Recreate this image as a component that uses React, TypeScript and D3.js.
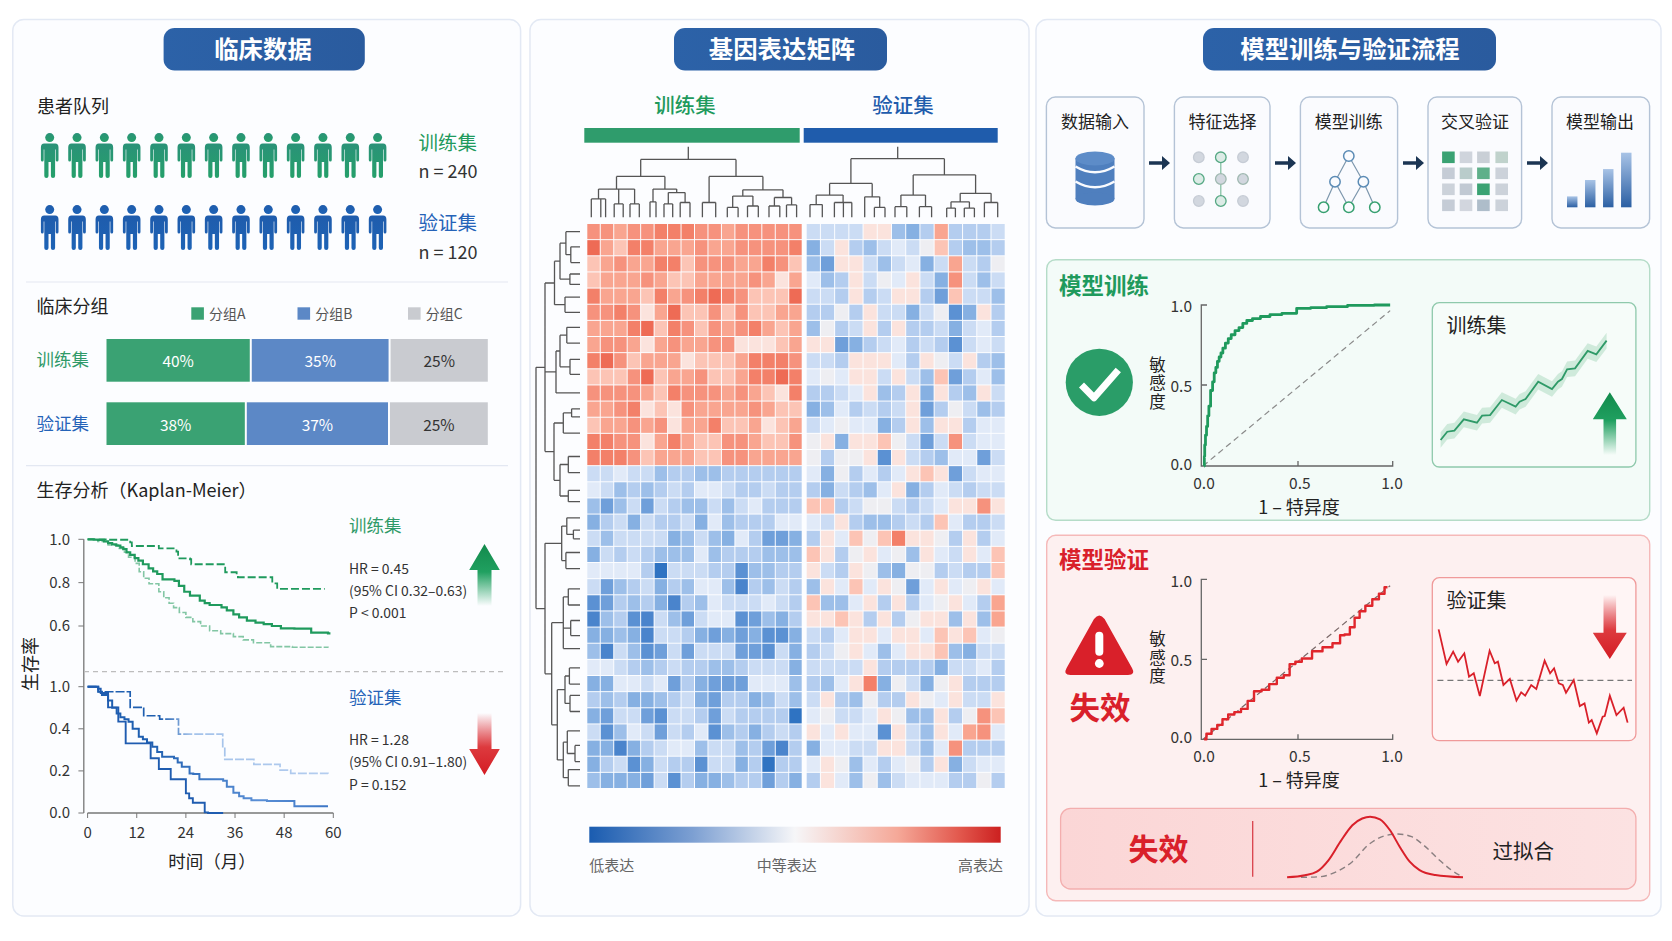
import React from "react";
import * as d3 from "d3";

const FONT = '"Noto Sans CJK SC","Noto Sans",sans-serif';
const GREEN = "#1f9a5d";
const BLUE = "#2563b8";
const RED = "#d9202a";
const INK = "#222";

const personRows = [
  { label: "训练集", n: "n = 240", color: GREEN },
  { label: "验证集", n: "n = 120", color: BLUE },
];
const personIcons = d3.range(13);

const groupNames = ["分组A", "分组B", "分组C"];
const groupColors = ["#3aa273", "#5c88c6", "#c9cbd0"];
const trainShareLabels = ["40%", "35%", "25%"];
const validShareLabels = ["38%", "37%", "25%"];
const trainShareDrawn = [38.1, 36.4, 25.5];
const validShareDrawn = [36.8, 37.55, 25.65];

const kmTrainMainT = [0,1.5,2.5,4,5,6,7,8,8.7,9.5,10.4,11.5,12.4,13.5,14.9,16,17,18.3,21.2,22.3,23.6,25,27.4,28.6,29.8,32.7,34,35.6,37,38.9,41,43,45,47.2,50.5,54.6,58.7,59.3];
const kmTrainMainS = [1,.998,.997,.99,.982,.977,.971,.963,.955,.94,.928,.913,.902,.885,.866,.852,.84,.815,.808,.785,.758,.74,.717,.706,.697,.686,.672,.654,.64,.625,.616,.609,.6,.589,.588,.569,.566,.566];
const kmTrainTopT = [0,5,10.4,10.8,17.4,21.7,22.1,25,25.3,32.7,33.6,36.4,36.7,44.3,45.1,46.3,57.9];
const kmTrainTopS = [1,.998,.986,.969,.958,.943,.912,.908,.885,.885,.848,.843,.825,.825,.797,.771,.771];
const kmTrainLowT = [0,2.5,5,7.5,9,10,11.6,12.6,13.7,15,17.4,18.6,19.9,21,22.4,24,25.7,27.6,29.8,32.5,35.6,38,40.5,44.7,50,58.7];
const kmTrainLowS = [1,.99,.974,.958,.94,.917,.889,.85,.82,.795,.758,.73,.705,.685,.662,.64,.62,.6,.578,.565,.551,.536,.523,.505,.502,.5];
const kmValidDarkT = [0,2.6,3.2,5,7.5,9.3,15.4,17.4,20.3,24,24.8,25.7,28.6,29.4,33.1];
const kmValidDarkU = [.6,.59,.57,.502,.434,.331,.26,.209,.16,.093,.07,.049,.003,0,0];
const kmValidMidT = [0,2.6,3.5,5,6,7.1,8,9,10,11,12.5,13.5,14.5,15.8,17,18.2,21.1,22,23,24.9,25.8,27.3,33.1,34,35.6,37,38.1,40,43.8,50.5,58.7];
const kmValidMidU = [.6,.576,.56,.535,.5,.473,.455,.445,.434,.4,.3625,.35,.335,.315,.29,.2675,.2596,.24,.22,.188,.185,.16,.1535,.125,.096,.08,.07,.06,.057,.032,.032];
const kmValidTopT = [0,2.6,10.4,13.7,17.6,22.2,33,33.5,40.6,47,49.6,58.7];
const kmValidTopU = [.6,.576,.502,.462,.446,.375,.315,.255,.231,.204,.188,.187];
const kmUpperTicks = [1, 0.8, 0.6];
const kmLowerTicks = [0.6, 0.4, 0.2, 0];
const kmLowerTickLabels = ["1.0", "0.4", "0.2", "0.0"];
const kmMonthTicks = [0, 12, 24, 36, 48, 60];

const heatTrainTop = [
  [4,4,3,4,4,5,5,5,4,4,3,4,4,4,4,4],
  [6,3,2,5,5,3,3,3,4,3,3,4,4,4,4,5],
  [2,3,4,3,3,5,5,2,4,4,4,3,3,5,4,2],
  [2,3,3,3,4,3,2,2,3,3,3,3,4,3,1,3],
  [5,3,3,3,2,5,3,4,5,6,5,4,2,2,2,6],
  [4,4,5,4,1,3,6,2,2,4,2,4,2,2,3,3],
  [3,3,3,5,6,2,5,4,2,4,3,4,5,3,2,3],
  [3,4,4,3,1,3,4,3,3,4,4,1,1,1,2,3],
  [5,6,4,2,3,3,3,1,2,2,2,3,5,5,5,4],
  [2,2,2,4,6,2,3,3,4,2,2,3,5,5,6,5],
  [4,4,4,4,3,2,5,4,4,4,3,4,3,2,1,5],
  [3,3,4,5,1,2,1,4,3,3,3,3,4,3,2,2],
  [2,3,3,4,3,4,1,3,3,5,2,2,3,1,2,3],
  [5,5,4,4,1,3,5,3,2,2,4,4,3,2,2,4],
  [5,5,5,4,2,3,3,3,2,2,4,4,3,3,3,3],
];
const heatTrainBottom = [
  [-2,-2,-1,-2,-2,-4,-3,-3,-4,-4,-3,-3,-3,-3,-3,-3],
  [-1,-2,-4,-3,-4,-3,-2,-3,-1,-1,-2,-3,-3,-2,-3,-3],
  [-4,-6,-4,-2,-6,-2,-3,-4,-4,-2,-4,-2,-1,-3,-3,-3],
  [-5,-3,-2,-5,-2,-3,-3,-2,-5,-1,-4,-3,-3,-3,-1,-1],
  [-2,-4,-2,-2,-2,-2,-5,-4,-2,-4,-5,-1,-3,-6,-6,-5],
  [-5,-2,-3,-2,-3,-4,-4,-4,-1,-4,-3,-3,-3,-4,-4,-4],
  [-1,-1,-1,-1,-3,-9,-2,-2,-2,-3,-3,-7,-4,-4,-3,-3],
  [-2,-6,-4,-3,-2,-5,-3,-4,-1,-1,-4,-8,-3,-4,-2,-3],
  [-7,-6,-3,-4,-3,-5,-8,-3,-4,-1,-2,-2,-2,-1,-2,-3],
  [-8,-4,-3,-7,-8,-2,-4,-6,-2,-1,-1,-7,-6,-4,-5,-3],
  [-5,-5,-4,-5,-8,-2,-2,-3,-5,-6,-5,-6,-5,-7,-7,-5],
  [-4,-8,-2,-4,-7,-6,-2,-6,-2,-2,-2,-6,-6,-7,-2,-5],
  [-1,-1,-2,-3,-4,-3,-2,-3,-3,-4,-4,-3,-2,-2,-2,-5],
  [-5,-5,-1,-1,-2,-1,-6,-3,-5,-6,-6,-6,-1,-1,-1,-4],
  [-3,-4,-3,-5,-5,-4,-3,-2,-5,-6,-3,-3,-5,-4,-2,-4],
  [-5,-6,-2,-2,-6,-7,-2,-2,-3,-6,-2,-3,-3,-3,-3,-9],
  [-2,-7,-4,-1,-2,-6,-2,-3,-1,-7,-4,-3,-5,-3,-2,-3],
  [-5,-5,-8,-5,-3,-2,-1,-1,-4,-2,-2,-4,-3,-6,-8,-3],
  [-5,-3,-2,-7,-5,-2,-3,-3,-7,-2,-2,-5,-3,-9,-3,-3],
  [-4,-5,-5,-5,-6,-2,-7,-3,-5,-5,-4,-3,-3,-6,-3,-5],
];
const heatValidTop = [
  [-2,-2,-2,-2,1,1,-4,-5,-3,3,-3,-3,-3,-2],
  [-5,-2,1,-3,-4,-2,-1,-2,0,2,-3,-4,-4,-3],
  [-4,-6,1,1,-2,-4,-2,-1,-5,-2,3,-2,-3,0],
  [-1,-4,-3,1,-2,0,-1,1,-2,-5,4,-2,-4,-2],
  [-2,-2,-3,1,-3,-2,1,1,-3,-6,2,-2,-2,-4],
  [-3,-3,0,-3,1,-2,-2,-5,-2,0,-7,-5,1,-3],
  [-4,0,-3,-2,1,-3,1,-3,-3,-2,-5,-2,-1,-3],
  [1,1,-6,-5,-3,-2,-1,-3,-2,-3,-7,-2,-1,-2],
  [-2,-2,-3,1,1,1,-1,-3,1,0,-2,1,-3,-4],
  [-1,0,-1,1,1,-2,1,-2,-4,2,-6,-3,-1,-4],
  [-3,-3,-2,-1,1,-4,-3,1,-5,1,-3,-4,1,-2],
  [-5,-4,-1,-3,-2,-3,-2,1,-6,-3,0,-2,-4,-3],
  [-2,-1,0,-1,-1,-5,-3,1,-4,1,1,-3,-1,-1],
  [0,1,-5,1,1,2,0,-2,-6,-2,4,-2,-1,-1],
  [0,-3,0,0,1,-7,1,-2,-3,-4,-1,-1,-6,-2],
];
const heatValidBottom = [
  [-1,-5,0,-3,-1,-3,-1,1,2,1,-6,-2,-1,-1],
  [-3,-5,-2,-3,-4,-1,1,-5,-3,-1,-2,-3,-2,-2],
  [2,2,-3,-2,0,0,-2,-3,-2,-1,1,1,4,1],
  [-1,-2,1,-3,-4,-4,-3,-2,-3,2,-1,-3,-3,-2],
  [-3,1,-1,2,0,2,5,1,1,0,-3,1,-3,-1],
  [2,1,-3,0,1,-1,0,-4,1,-1,-2,1,-1,2],
  [1,-2,-3,1,0,-4,-5,0,0,-3,-2,-3,-3,2],
  [-4,1,-1,2,-1,1,0,-6,-1,1,-1,0,1,-1],
  [2,-4,-4,-1,1,-3,1,-3,-1,0,1,-1,-3,3],
  [1,1,2,1,-3,1,-3,0,1,1,-4,1,-4,3],
  [-2,-3,-1,1,1,-1,1,1,-1,2,1,2,-1,0],
  [-3,-2,0,1,-1,-4,-1,1,1,2,-4,-5,-2,-2],
  [-2,-2,-2,-2,1,-3,-3,-3,-3,-5,-2,-2,-1,-3],
  [-3,-4,-1,1,5,-5,0,-2,-5,0,1,-3,-3,-3],
  [-2,1,-3,-4,0,-3,-3,1,0,-1,1,-2,-2,1],
  [-1,0,-2,-2,-1,1,0,-4,-4,1,-3,0,4,2],
  [1,-1,1,-1,-1,-7,1,-2,-4,1,-1,3,4,-1],
  [-5,-1,-1,-2,-2,1,1,-2,-4,-1,4,-3,-3,-3],
  [-1,1,0,-4,-1,-3,-1,0,-3,1,-5,-2,-1,-1],
  [-3,1,-1,-4,0,-4,-2,-1,-1,-1,-3,-3,0,-3],
];
const heatLevels = [-9,-8,-7,-6,-5,-4,-3,-2,-1,0,1,2,3,4,5,6];
const heatColors = ["#2f73c2","#4a84cc","#5b91d3","#6f9fda","#86b0e2","#9dbfe9","#b4cdef","#cbdcf4","#e1eaf8","#eeeef2","#fbe3dd","#fcc4b5","#f9a590","#f6927d","#f38069","#ee6b55"];
const legendOffsets = [0, 0.25, 0.5, 0.75, 0.9, 1];
const legendStops = ["#1a5cb0", "#7c9fd2", "#f6f6f8", "#f5a898", "#e2584d", "#cc2020"];

type Tree = number | (number | Tree)[];
const trainColTree: Tree = [.82,
  [.58,
    [.40, [.26,.3,1,1.36], [.19,2,2.67], [.19,3.17,3.86]],
    [.40, [.22,4.66,5.1], [.35,[.19,5.7,6.34],[.21,6.9,7.63]]]],
  [.58,
    [.21,8.55,9.54],
    [.39,[.30,[.14,10.4,11.2],[.16,11.9,12.7]],[.28,[.16,13.5,14.3],[.175,14.8,15.55]]]],
];
const validColTree: Tree = [.83,
  [.48,
    [.315,[.18,.23,1.1],[.21,1.95,2.58,3.17]],
    [.29,4.08,[.14,4.76,5.51]]],
  [.60,
    [.315,[.15,6.21,7.04],[.15,7.93,8.79]],
    [.34,[.22,[.13,9.85,10.46],[.13,11.09,11.8]],[.21,12.5,13.44]]],
];
const rowTree: Tree = [1,
  [.795,
    [.58,[.455,[.32,.48,[.21,1.41,2.39]],[.23,3.1,3.74]],[.34,4.53,5.47]],
    [.545,[.455,[.30,6.4,7.38],[.227,8.38,9.31]],10.46],
    [.59,[.38,[.19,11.45,11.95],12.95],[.455,[.265,14.4,15.4],[.265,16.5,17.2]]]],
  [.795,
    [.417,[.30,18.2,[.15,18.96,19.5]],[.32,20.35,21.35]],
    [.644,
      [.38,[.265,22.6,23.6],[.212,24.56,25.5],26.3],
      [.515,[.34,[.24,27.5,28.5],[.227,29.2,30.2]],[.38,[.288,31.4,[.114,32.3,33.3]],[.265,33.8,34.8]]]]],
];

const stepNames = ["数据输入", "特征选择", "模型训练", "交叉验证", "模型输出"];
const outputBars = [0.2, 0.5, 0.7, 1];
const cvColors = [
  ["#3aa273","#cfd4dc","#c9cfd6","#c0d2cc"],
  ["#c5ccd6","#b9cccb","#5fb08a","#ccd2da"],
  ["#ccd2da","#c1c9d3","#3aa273","#ccd2da"],
  ["#c5ccd6","#d2d6de","#aebdca","#ccd2da"],
];

const rocTrainX = [.006,.008,.01,.016,.021,.028,.034,.046,.055,.063,.072,.08,.09,.099,.11,.126,.14,.157,.18,.199,.22,.241,.28,.325,.38,.451,.535,.6,.702,.82,.985];
const rocTrainY = [0,.06,.13,.19,.244,.31,.369,.466,.52,.576,.61,.648,.675,.7,.73,.762,.79,.814,.84,.859,.885,.903,.915,.928,.94,.948,.979,.984,.99,.998,1];
const rocValidX = [.006,.03,.06,.09,.115,.15,.18,.22,.25,.287,.33,.367,.41,.44,.472,.5,.54,.608,.65,.713,.73,.76,.786,.81,.839,.87,.912,.94,.971];
const rocValidY = [0,.035,.065,.09,.125,.155,.17,.19,.24,.3,.31,.345,.385,.4,.47,.485,.505,.55,.575,.6,.65,.655,.7,.76,.8,.835,.875,.91,.95];
const rocTicks = [0, 0.5, 1];

const trendTrainX = [0,4,8.3,14,21.9,25,29.8,36.9,45.2,47.6,51.2,58.8,67.1,70.7,73.1,76.2,81,88.6,93.8,100];
const trendTrainY = [.125,.194,.203,.297,.269,.328,.333,.458,.403,.444,.467,.611,.55,.611,.633,.714,.722,.867,.839,.953];
const trendValidX = [0,4.2,7.7,10.3,13.6,16.1,18.6,21.8,27,29.7,31.4,34.3,37.7,41.2,43.7,45.8,49,51.7,56.1,59,61.1,63.6,65.7,67.4,71.5,74.7,77.2,79.5,81,83.7,86.8,87.9,90.6,94.1,97.9,100];
const trendValidY = [1.006,.691,.803,.712,.788,.576,.606,.4,.812,.697,.712,.5,.555,.358,.433,.403,.5,.464,.721,.606,.652,.515,.5,.43,.545,.309,.333,.158,.182,.061,.212,.218,.403,.227,.294,.158];
const overfitRedX = [0,10.1,16.9,23.6,30.3,37.1,42.7,47.2,52.8,58.4,64,69.7,75.3,84.3,100];
const overfitRedY = [0,.033,.093,.285,.588,.86,.97,1,.956,.78,.505,.258,.12,.038,0];
const overfitGreyX = [7.9,19.1,28.1,37.1,46.1,55.1,62.9,70.8,77.5,86.5,93.3,98.9];
const overfitGreyY = [0,.011,.093,.258,.533,.681,.714,.67,.533,.286,.121,.022];

const zip = (a: number[], b: number[]) => a.map((v, i) => [v, b[i]] as [number, number]);

function T({ x, y, s, c = INK, a = "start", w = 400, children, ...rest }: any) {
  return <text x={x} y={y - 1.3} fontSize={s} fill={c} textAnchor={a} fontWeight={w} dominantBaseline="central" {...rest}>{children}</text>;
}

function treePath(tree: Tree, toPoint: (pos: number, h: number) => [number, number], stemTo?: number) {
  const parts: string[] = [];
  const line = (a: [number, number], b: [number, number]) => parts.push(`M${a[0].toFixed(1)},${a[1].toFixed(1)}L${b[0].toFixed(1)},${b[1].toFixed(1)}`);
  const walk = (n: Tree): { pos: number; h: number } => {
    if (typeof n === "number") return { pos: n, h: 0 };
    const h = n[0] as number;
    const kids = (n.slice(1) as Tree[]).map(walk);
    const ps = kids.map(k => k.pos);
    const lo = Math.min(...ps), hi = Math.max(...ps);
    kids.forEach(k => line(toPoint(k.pos, k.h), toPoint(k.pos, h)));
    line(toPoint(lo, h), toPoint(hi, h));
    return { pos: (lo + hi) / 2, h };
  };
  const root = walk(tree);
  if (stemTo !== undefined) line(toPoint(root.pos, root.h), toPoint(root.pos, stemTo));
  return parts.join("");
}

function Arrow({ x, tip, base, tail, hw, sw, fill }: any) {
  const d = `M${x},${tip}L${x + hw},${base}H${x + sw}V${tail}H${x - sw}V${base}H${x - hw}Z`;
  return <path d={d} fill={fill} />;
}

function Person({ x, y, fill }: any) {
  return (
    <g transform={`translate(${x},${y})`} fill={fill}>
      <circle cx={0} cy={4.6} r={4.5} />
      <path d="M-5.5,10.5H5.5Q8.8,10.5 8.8,14.5V27Q8.8,28.5 7.4,28.5Q6,28.5 6,27V16.5H5.4V43Q5.4,45 3.3,45Q1.2,45 1.2,43V29H-1.2V43Q-1.2,45 -3.3,45Q-5.4,45 -5.4,43V16.5H-6V27Q-6,28.5 -7.4,28.5Q-8.8,28.5 -8.8,27V14.5Q-8.8,10.5 -5.5,10.5Z" />
    </g>
  );
}

function Pill({ x0, x1, tx, label }: any) {
  return (
    <g>
      <rect x={x0} y={28} width={x1 - x0} height={42.5} rx={11} fill="url(#pill)" />
      <T x={tx} y={49} s={24.4} c="#fff" a="middle" w={700}>{label}</T>
    </g>
  );
}

function Roc({ top, mid, bottom, pts, color, width, diagTop, diagColor, labelYs, tickY, xTitleY }: any) {
  const x = d3.scaleLinear().domain([0, 1]).range([1203, 1393]);
  const y = d3.scaleLinear().domain([0, 0.5, 1]).range([bottom, mid, top]);
  const line = d3.line().x(d => x(d[0])).y(d => y(d[1])).curve(d3.curveStep);
  return (
    <g>
      <path d={`M1207,${top}H1201.3V${bottom}H1392.7V${bottom - 5}`} fill="none" stroke="#666" strokeWidth={1.3} />
      <path d={`M1201.3,${y(.5)}H1207M${x(.5)},${bottom}V${bottom - 5}`} stroke="#666" strokeWidth={1.3} />
      <line x1={x(0)} y1={y(0)} x2={x(.985)} y2={y(diagTop)} stroke={diagColor} strokeWidth={1.2} strokeDasharray="6 4" />
      <path d={line(pts) as string} fill="none" stroke={color} strokeWidth={width} strokeLinejoin="round" />
      {rocTicks.map((t, i) => (
        <g key={t}>
          <T x={1192} y={labelYs[i]} s={15.5} a="end" c="#333">{t.toFixed(1)}</T>
          <T x={i === 0 ? 1204 : i === 1 ? 1299.8 : 1392} y={tickY} s={15.5} a="middle" c="#333">{t.toFixed(1)}</T>
        </g>
      ))}
      <T x={1299} y={xTitleY} s={18} a="middle" c="#222">1 – 特异度</T>
    </g>
  );
}

function VerticalLabel({ x, y }: any) {
  return <text x={x} y={y} fontSize={16.5} fill={INK} textAnchor="middle" letterSpacing={2} style={{ writingMode: "vertical-rl" }}>敏感度</text>;
}

export default function App() {
  const kmX = d3.scaleLinear().domain([0, 60]).range([87.6, 333.3]);
  const kmYU = d3.scaleLinear().domain([0.6, 1]).range([626, 539.3]);
  const kmYL = d3.scaleLinear().domain([0, 0.6]).range([813, 686.7]);
  const kmU = d3.line().x(d => kmX(d[0])).y(d => kmYU(d[1])).curve(d3.curveStepAfter);
  const kmL = d3.line().x(d => kmX(d[0])).y(d => kmYL(d[1])).curve(d3.curveStepAfter);

  const share = d3.scaleLinear().domain([0, 100]).range([106.5, 487.8]);
  const heatColor = d3.scaleLinear<string>().domain(heatLevels).range(heatColors);
  const personX = d3.scaleLinear().domain([0, 12]).range([49.7, 377.6]);

  const rowCount = heatTrainTop.length + heatTrainBottom.length;
  const heatY = d3.scaleLinear().domain([0, rowCount]).range([224, 789]);
  const trainX = d3.scaleLinear().domain([0, 16]).range([587.3, 802.7]);
  const validX = d3.scaleLinear().domain([0, 14]).range([806.7, 1005.7]);
  const dendroY = d3.scaleLinear().domain([0, 1]).range([217.3, 146.7]);
  const dendroX = d3.scaleLinear().domain([0, 1]).range([580, 536]);
  const trainRows = [...heatTrainTop, ...heatTrainBottom];
  const validRows = [...heatValidTop, ...heatValidBottom];

  const cardX0 = [1046.4, 1174.4, 1300.4, 1428, 1552];
  const cardX1 = [1144, 1270, 1397.6, 1521.6, 1649.6];
  const titleX = [1095, 1222.4, 1348.8, 1475, 1600];
  const arrowX0 = [1149, 1275, 1403, 1527];

  const barX = d3.scaleBand<number>().domain(d3.range(4)).range([1567, 1631.5]).paddingInner(0.42);
  const barY = d3.scaleLinear().domain([0, 1]).range([207.3, 152.7]);

  const trendX = d3.scaleLinear().domain([0, 100]).range([1440.6, 1606.6]);
  const trendY = d3.scaleLinear().domain([0, 1]).range([455, 335]);
  const valX = d3.scaleLinear().domain([0, 100]).range([1438.6, 1627.6]);
  const valY = d3.scaleLinear().domain([0, 1]).range([740, 630]);
  const ovX = d3.scaleLinear().domain([0, 100]).range([1287.1, 1463]);
  const ovY = d3.scaleLinear().domain([0, 1]).range([877.3, 816.7]);
  const ovLine = d3.line().x(d => ovX(d[0])).y(d => ovY(d[1])).curve(d3.curveMonotoneX);
  const trendPts = zip(trendTrainX, trendTrainY);
  const bandArea = d3.area<[number, number]>().x(d => trendX(d[0])).y0(d => trendY(d[1] - 0.065)).y1(d => trendY(d[1] + 0.065));
  const trendLine = d3.line().x(d => trendX(d[0])).y(d => trendY(d[1]));
  const valLine = d3.line().x(d => valX(d[0])).y(d => valY(d[1]));

  return (
    <svg width={1672} height={941} viewBox="0 0 1672 941" style={{ position: "fixed", left: 0, top: 0, background: "#fff", fontFamily: FONT }}>
      <defs>
        <linearGradient id="pill" x1="0" y1="0" x2="1" y2="0"><stop offset="0" stopColor="#2c62a8" /><stop offset="1" stopColor="#2a5b9e" /></linearGradient>
        <linearGradient id="upG" x1="0" y1="0" x2="0" y2="1"><stop offset="0" stopColor="#128a4c" /><stop offset=".45" stopColor="#20a060" /><stop offset="1" stopColor="#20a060" stopOpacity="0" /></linearGradient>
        <linearGradient id="downR" x1="0" y1="0" x2="0" y2="1"><stop offset="0" stopColor="#d9202a" stopOpacity="0" /><stop offset=".55" stopColor="#dd3a3e" /><stop offset="1" stopColor="#d41c24" /></linearGradient>
        <linearGradient id="pG" x1="0" y1="0" x2="0" y2="1"><stop offset="0" stopColor="#2a9278" /><stop offset="1" stopColor="#25a06a" /></linearGradient>
        <linearGradient id="pB" x1="0" y1="0" x2="0" y2="1"><stop offset="0" stopColor="#1f5cac" /><stop offset="1" stopColor="#1d63b6" /></linearGradient>
        <linearGradient id="legend" x1="0" y1="0" x2="1" y2="0">
          {legendStops.map((c, i) => <stop key={c} offset={legendOffsets[i]} stopColor={c} />)}
        </linearGradient>
        <linearGradient id="barIcon" x1="0" y1="0" x2="0" y2="1"><stop offset="0" stopColor="#a8c3e6" /><stop offset="1" stopColor="#2b5fa3" /></linearGradient>
        <linearGradient id="kmMid" gradientUnits="userSpaceOnUse" x1="87" y1="0" x2="333" y2="0"><stop offset=".25" stopColor="#1f5fb0" /><stop offset=".7" stopColor="#5a8fd6" /><stop offset="1" stopColor="#3a74c4" /></linearGradient>
        <linearGradient id="kmTop" gradientUnits="userSpaceOnUse" x1="87" y1="0" x2="333" y2="0"><stop offset=".3" stopColor="#1f5fb0" /><stop offset=".42" stopColor="#a3c2ea" /><stop offset="1" stopColor="#b4cdef" /></linearGradient>
        <linearGradient id="failBox" x1="0" y1="0" x2="1" y2="0"><stop offset="0" stopColor="#fbd6d6" /><stop offset="1" stopColor="#fce2e2" /></linearGradient>
      </defs>

      {[[12.8, 520.6], [530, 1029], [1036, 1661]].map(([a, b]) => (
        <rect key={a} x={a} y={19.5} width={b - a} height={896.5} rx={11} fill="#fcfdff" stroke="#e3e9f4" strokeWidth={1.5} />
      ))}

      {/* Clinical panel */}
      <Pill x0={163.6} x1={364.8} tx={263} label="临床数据" />
      <T x={37} y={106} s={18}>患者队列</T>
      {personRows.map((row, r) => (
        <g key={row.label}>
          {personIcons.map(i => <Person key={i} x={personX(i)} y={133 + r * 72} fill={r === 0 ? "url(#pG)" : "url(#pB)"} />)}
          <T x={418.5} y={143 + r * 80} s={19.5} c={row.color}>{row.label}</T>
          <T x={418.5} y={171 + r * 81} s={18} c="#333">{row.n}</T>
        </g>
      ))}
      <line x1={26} x2={508} y1={282} y2={282} stroke="#e3e8f2" strokeWidth={1.2} />
      <T x={36.5} y={306.7} s={18}>临床分组</T>
      {groupNames.map((g, i) => {
        const sx = [191.3, 297.5, 408][i];
        return (
          <g key={g}>
            <rect x={sx} y={307.3} width={12.6} height={12.4} fill={groupColors[i]} />
            <T x={sx + 17.7} y={314} s={14} c="#555">{g}</T>
          </g>
        );
      })}
      {[{ name: "训练集", c: "#2f9a68", v: trainShareDrawn, l: trainShareLabels, y0: 339, ly: 360 },
        { name: "验证集", c: BLUE, v: validShareDrawn, l: validShareLabels, y0: 402.3, ly: 424 }].map(row => {
        const ends = d3.cumsum(row.v);
        return (
          <g key={row.name}>
            <T x={36.5} y={row.ly} s={17.5} c={row.c}>{row.name}</T>
            {row.v.map((v, i) => {
              const a = share(ends[i] - v), b = share(Math.min(ends[i], 100)) - (i < 2 ? 2 : 0);
              return (
                <g key={i}>
                  <rect x={a} y={row.y0} width={b - a} height={42.7} fill={groupColors[i]} />
                  <T x={(a + b) / 2} y={row.ly + 1} s={15.5} a="middle" c={i === 2 ? "#333" : "#fff"}>{row.l[i]}</T>
                </g>
              );
            })}
          </g>
        );
      })}
      <line x1={26} x2={508} y1={465.7} y2={465.7} stroke="#e3e8f2" strokeWidth={1.2} />
      <T x={36.5} y={490} s={18}>生存分析（Kaplan-Meier）</T>

      {/* KM */}
      <line x1={83.8} x2={83.8} y1={539.3} y2={813} stroke="#777" strokeWidth={1.3} />
      <line x1={87.6} x2={333.3} y1={813} y2={813} stroke="#777" strokeWidth={1.3} />
      {kmUpperTicks.map(t => (
        <g key={t}>
          <line x1={78.4} x2={83.8} y1={kmYU(t)} y2={kmYU(t)} stroke="#777" />
          <T x={70} y={kmYU(t)} s={15} a="end" c="#333">{t.toFixed(1)}</T>
        </g>
      ))}
      {kmLowerTicks.map((t, i) => (
        <g key={t}>
          <line x1={78.4} x2={83.8} y1={kmYL(t)} y2={kmYL(t)} stroke="#777" />
          <T x={70} y={kmYL(t)} s={15} a="end" c="#333">{kmLowerTickLabels[i]}</T>
        </g>
      ))}
      {kmMonthTicks.map(t => (
        <g key={t}>
          <line x1={kmX(t)} x2={kmX(t)} y1={813} y2={818} stroke="#777" />
          <T x={kmX(t)} y={832.7} s={15} a="middle" c="#333">{t}</T>
        </g>
      ))}
      <T x={212} y={862} s={17.5} a="middle">时间（月）</T>
      <T x={30} y={664} s={18} a="middle" transform="rotate(-90 30 664)">生存率</T>
      <line x1={84} x2={505} y1={671.7} y2={671.7} stroke="#bdbdbd" strokeWidth={1.2} strokeDasharray="5 4" />
      <path d={kmU(zip(kmTrainLowT, kmTrainLowS)) as string} fill="none" stroke="#82c6a4" strokeWidth={1.6} strokeDasharray="6 2" />
      <path d={kmU(zip(kmTrainTopT, kmTrainTopS)) as string} fill="none" stroke="#1f9a5d" strokeWidth={1.8} strokeDasharray="8 3" />
      <path d={kmU(zip(kmTrainMainT, kmTrainMainS)) as string} fill="none" stroke="#1f9a5d" strokeWidth={2.2} />
      <path d={kmL(zip(kmValidTopT, kmValidTopU)) as string} fill="none" stroke="url(#kmTop)" strokeWidth={1.7} strokeDasharray="9 2" />
      <path d={kmL(zip(kmValidMidT, kmValidMidU)) as string} fill="none" stroke="url(#kmMid)" strokeWidth={2} />
      <path d={kmL(zip(kmValidDarkT, kmValidDarkU)) as string} fill="none" stroke="#1f5cb0" strokeWidth={1.9} />
      <T x={349} y={526} s={17.5} c="#2f9a68">训练集</T>
      {["HR = 0.45", "(95% CI 0.32–0.63)", "P < 0.001"].map((s, i) => <T key={s} x={349} y={[569, 591, 613.7][i]} s={13.9} c="#333">{s}</T>)}
      <T x={349} y={698} s={17.5} c={BLUE}>验证集</T>
      {["HR = 1.28", "(95% CI 0.91–1.80)", "P = 0.152"].map((s, i) => <T key={s} x={349} y={[740, 762, 785][i]} s={13.9} c="#333">{s}</T>)}
      <Arrow x={484.5} tip={544} base={570} tail={606} hw={15.3} sw={7} fill="url(#upG)" />
      <Arrow x={484.5} tip={775} base={749} tail={713} hw={15.3} sw={7} fill="url(#downR)" />

      {/* Heatmap panel */}
      <Pill x0={674} x1={887} tx={782} label="基因表达矩阵" />
      <T x={685} y={105.7} s={20.5} a="middle" c={GREEN} w={500}>训练集</T>
      <T x={903} y={105.7} s={20.5} a="middle" c="#1f5cac" w={500}>验证集</T>
      <rect x={584.3} y={128} width={215.4} height={14.7} fill="#2f9c6c" />
      <rect x={803.7} y={128} width={194} height={14.7} fill="#1f5cac" />
      <path d={treePath(trainColTree, (p, h) => [trainX(p), dendroY(h)], 1)} fill="none" stroke="#555" strokeWidth={1.3} />
      <path d={treePath(validColTree, (p, h) => [validX(p), dendroY(h)], 1)} fill="none" stroke="#555" strokeWidth={1.3} />
      <path d={treePath(rowTree, (p, h) => [dendroX(h), heatY(p)])} fill="none" stroke="#555" strokeWidth={1.3} />
      {trainRows.map((row, r) => row.map((v, c) => (
        <rect key={`t${r}-${c}`} x={trainX(c)} y={heatY(r)} width={trainX(1) - trainX(0) - 1} height={heatY(1) - heatY(0) - 1} fill={heatColor(v)} />
      )))}
      {validRows.map((row, r) => row.map((v, c) => (
        <rect key={`v${r}-${c}`} x={validX(c)} y={heatY(r)} width={validX(1) - validX(0) - 1} height={heatY(1) - heatY(0) - 1} fill={heatColor(v)} />
      )))}
      <rect x={589.3} y={826.7} width={411.4} height={16} fill="url(#legend)" />
      <T x={589.3} y={866} s={15} c="#666">低表达</T>
      <T x={786.7} y={866} s={15} c="#666" a="middle">中等表达</T>
      <T x={1003} y={866} s={15} c="#666" a="end">高表达</T>

      {/* Flow panel */}
      <Pill x0={1203} x1={1496} tx={1350} label="模型训练与验证流程" />
      {stepNames.map((s, i) => (
        <g key={s}>
          <rect x={cardX0[i]} y={97} width={cardX1[i] - cardX0[i]} height={131} rx={9} fill="#fafbfe" stroke="#b4c3d6" strokeWidth={1.4} />
          <T x={titleX[i]} y={121.7} s={17} a="middle">{s}</T>
        </g>
      ))}
      {arrowX0.map(x => (
        <path key={x} d={`M${x},161.3H${x + 13}V156L${x + 21},163L${x + 13},170V164.7H${x}Z`} fill="#1b3553" />
      ))}
      {/* database icon */}
      <g>
        <rect x={1075.5} y={158} width={39} height={41} fill="#4f7fbe" />
        <ellipse cx={1095} cy={158.5} rx={19.5} ry={7} fill="#5d8cc8" />
        <ellipse cx={1095} cy={199} rx={19.5} ry={6.5} fill="#4f7fbe" />
        <path d="M1075.5,166.5Q1095,178 1114.5,166.5" fill="none" stroke="#fafbfe" strokeWidth={2.6} />
        <path d="M1075.5,181.5Q1095,193 1114.5,181.5" fill="none" stroke="#fafbfe" strokeWidth={2.6} />
      </g>
      {/* feature icon */}
      <line x1={1220.8} x2={1220.8} y1={157.3} y2={201} stroke="#7dbd9e" strokeWidth={1.2} />
      {[[1198.8,157.3,0],[1220.8,157.3,1],[1243,157.3,0],[1198.8,179,1],[1220.8,179,2],[1243,179,2],[1198.8,201,0],[1220.8,201,1],[1243,201,0]].map(([x, y, k], i) => (
        <circle key={i} cx={x} cy={y} r={5.3} fill={k === 1 ? "#dcebe6" : "#d2d7df"} stroke={k === 1 ? "#55a883" : k === 2 ? "#9fb8b0" : "#c6ccd5"} strokeWidth={1.3} />
      ))}
      {/* tree icon */}
      <path d="M1348.8,156L1335,181.7M1348.8,156L1363.4,181.7M1335,181.7L1323.6,207.3M1335,181.7L1348.8,207.3M1363.4,181.7L1348.8,207.3M1363.4,181.7L1374.8,207.3" stroke="#7d97ad" strokeWidth={1.2} />
      {[[1348.8,156,0],[1335,181.7,0],[1363.4,181.7,0],[1323.6,207.3,1],[1348.8,207.3,1],[1374.8,207.3,1]].map(([x, y, k], i) => (
        <circle key={i} cx={x} cy={y} r={5.2} fill="#fafbfe" stroke={k ? "#37a070" : "#5b8bb5"} strokeWidth={1.5} />
      ))}
      {/* cv grid */}
      {cvColors.map((row, r) => row.map((c, j) => (
        <rect key={`${r}-${j}`} x={[1448.4,1466,1483.4,1501.7][j] - 6.3} y={[157.3,173.3,189.3,205.3][r] - 5.8} width={12.6} height={11.6} fill={c} />
      )))}
      {/* output bars */}
      {outputBars.map((v, i) => (
        <rect key={i} x={barX(i)} y={barY(v)} width={barX.bandwidth()} height={barY(0) - barY(v)} fill="url(#barIcon)" />
      ))}

      {/* Training box */}
      <rect x={1046.7} y={259.7} width={603} height={260.6} rx={9} fill="#f3fbf8" stroke="#b5dcc8" strokeWidth={1.4} />
      <T x={1059} y={285} s={22.5} c={GREEN} w={700}>模型训练</T>
      <circle cx={1099.3} cy={382.3} r={33.6} fill="#2a9d68" />
      <path d="M1081.5,385L1094,397.7L1118.3,370" fill="none" stroke="#fff" strokeWidth={7} strokeLinejoin="round" />
      <Roc top={305} mid={385} bottom={466} pts={zip(rocTrainX, rocTrainY)} color="#1f9a5d" width={2.8} diagTop={.965} diagColor="#8a8a8a" labelYs={[464.3, 386, 306]} tickY={483} xTitleY={507.3} />
      <VerticalLabel x={1157.4} y={384} />
      <rect x={1432.3} y={302.7} width={203.6} height={164.3} rx={7} fill="#f6fcf9" stroke="#8fc9ac" strokeWidth={1.3} />
      <T x={1446.5} y={325.7} s={20}>训练集</T>
      <path d={bandArea(trendPts) as string} fill="#bfe3cf" opacity={.7} />
      <path d={trendLine(trendPts) as string} fill="none" stroke="#2f9a68" strokeWidth={1.8} />
      <Arrow x={1609.8} tip={392.3} base={419.3} tail={455} hw={17} sw={6.3} fill="url(#upG)" />

      {/* Validation box */}
      <rect x={1046.7} y={535.3} width={603} height={365.4} rx={9} fill="#fdf0f0" stroke="#f5b9b9" strokeWidth={1.4} />
      <T x={1059} y={559.3} s={22.5} c={RED} w={700}>模型验证</T>
      <path d="M1094,619Q1099.3,612 1104.6,619L1132,668Q1136,675 1128,675H1070.6Q1062.6,675 1066.6,668Z" fill={RED} />
      <rect x={1095.3} y={631.7} width={8} height={24} rx={4} fill="#fff" />
      <circle cx={1099.3} cy={663.5} r={4.4} fill="#fff" />
      <T x={1100} y={707} s={30.5} a="middle" c={RED} w={700}>失效</T>
      <Roc top={579.3} mid={659.3} bottom={739.3} pts={zip(rocValidX, rocValidY)} color="#e0262c" width={2.4} diagTop={.96} diagColor="#7a6868" labelYs={[737.7, 660, 581]} tickY={756.7} xTitleY={780.7} />
      <VerticalLabel x={1157.4} y={658.5} />
      <rect x={1432.3} y={577.7} width={203.6} height={163} rx={7} fill="#fff5f5" stroke="#f09a9a" strokeWidth={1.3} />
      <T x={1446.5} y={600.7} s={20}>验证集</T>
      <line x1={1437.4} x2={1632} y1={680.3} y2={680.3} stroke="#777" strokeWidth={1.3} strokeDasharray="6 4" />
      <path d={valLine(zip(trendValidX, trendValidY)) as string} fill="none" stroke={RED} strokeWidth={1.8} />
      <Arrow x={1609.8} tip={659} base={632.7} tail={595} hw={17} sw={6.3} fill="url(#downR)" />
      <rect x={1060.6} y={808.3} width={575.3} height={80.7} rx={10} fill="url(#failBox)" stroke="#f3aeae" strokeWidth={1.3} />
      <T x={1158.6} y={848.3} s={30} a="middle" c={RED} w={700}>失效</T>
      <line x1={1252.7} x2={1252.7} y1={821} y2={876.7} stroke="#d9404a" strokeWidth={1.3} />
      <path d={ovLine(zip(overfitGreyX, overfitGreyY)) as string} fill="none" stroke="#8a7f80" strokeWidth={1.4} strokeDasharray="6 4" />
      <path d={ovLine(zip(overfitRedX, overfitRedY)) as string} fill="none" stroke={RED} strokeWidth={2} />
      <T x={1523.2} y={851.7} s={20.5} a="middle">过拟合</T>
    </svg>
  );
}
